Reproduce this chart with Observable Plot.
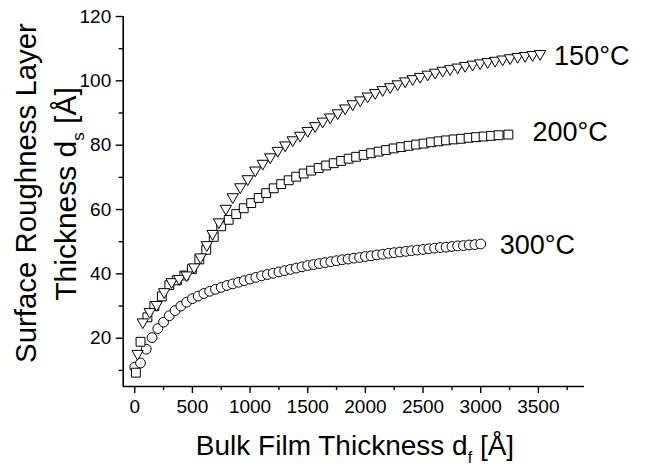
<!DOCTYPE html>
<html>
<head>
<meta charset="utf-8">
<script src="https://cdn.jsdelivr.net/npm/d3@7"></script>
<script src="https://cdn.jsdelivr.net/npm/@observablehq/plot@0.6"></script>
<style>
  html, body { margin: 0; padding: 0; background: #fff; }
  #chart { width: 647px; height: 466px; }
  text { font-family: "Liberation Sans", Arial, sans-serif; }
</style>
</head>
<body>
<div id="chart"></div>
<script>
// ---- Data ----
const series = ["150°C", "200°C", "300°C"];

// 150°C (down triangles)
const t150_x = [25, 70, 130, 190, 255, 320, 385, 450, 515, 570, 625, 675, 730, 790, 850, 915, 980, 1045, 1110, 1175, 1240, 1305, 1370, 1435, 1500, 1565, 1630, 1695, 1760, 1825, 1890, 1955, 2020, 2085, 2150, 2215, 2280, 2345, 2410, 2475, 2540, 2605, 2670, 2735, 2800, 2865, 2930, 2995, 3060, 3125, 3190, 3255, 3320, 3385, 3450, 3515];
const t150_y = [15.2, 25.0, 28.2, 30.4, 34.4, 37.5, 38.5, 39.6, 42.1, 45.2, 49.0, 52.5, 56.1, 60.3, 63.9, 67.0, 69.5, 72.2, 74.3, 76.3, 78.3, 80.0, 81.6, 83.0, 84.5, 86.0, 87.4, 88.7, 90.0, 91.5, 92.8, 94.0, 95.2, 96.3, 97.2, 98.1, 99.0, 99.9, 100.6, 101.3, 102.0, 102.6, 103.2, 103.7, 104.2, 104.7, 105.1, 105.5, 105.9, 106.3, 106.7, 107.1, 107.5, 107.8, 108.1, 108.4];

// 200°C (squares)
const s200_x = [10, 50, 110, 170, 235, 300, 365, 430, 495, 560, 620, 685, 750, 815, 880, 945, 1010, 1075, 1140, 1205, 1270, 1335, 1400, 1465, 1530, 1595, 1660, 1725, 1790, 1855, 1920, 1985, 2050, 2115, 2180, 2245, 2310, 2375, 2440, 2505, 2570, 2635, 2700, 2765, 2830, 2895, 2960, 3025, 3090, 3155, 3240];
const s200_y = [9.3, 18.9, 26.5, 30.0, 33.0, 36.5, 38.0, 39.5, 41.5, 44.5, 47.5, 51.5, 54.8, 56.8, 58.6, 60.4, 62.0, 63.6, 65.1, 66.6, 67.9, 69.1, 70.2, 71.2, 72.1, 72.9, 73.7, 74.4, 75.1, 75.8, 76.4, 77.0, 77.5, 78.0, 78.5, 79.0, 79.4, 79.8, 80.2, 80.5, 80.9, 81.2, 81.5, 81.8, 82.0, 82.3, 82.5, 82.7, 82.9, 83.1, 83.3];

// 300°C (circles)
const c300_x = [0, 50, 100, 150, 200, 250, 300, 350, 400, 450, 500, 550, 600, 650, 700, 750, 800, 850, 900, 950, 1000, 1050, 1100, 1150, 1200, 1250, 1300, 1350, 1400, 1450, 1500, 1550, 1600, 1650, 1700, 1750, 1800, 1850, 1900, 1950, 2000, 2050, 2100, 2150, 2200, 2250, 2300, 2350, 2400, 2450, 2500, 2550, 2600, 2650, 2700, 2750, 2800, 2850, 2900, 2950, 3000];
const c300_y = [11.0, 12.3, 16.6, 20.2, 23.0, 25.0, 27.0, 28.6, 30.0, 31.2, 32.3, 33.1, 33.9, 34.6, 35.2, 35.8, 36.4, 36.9, 37.4, 37.9, 38.4, 38.9, 39.4, 39.8, 40.2, 40.6, 41.0, 41.4, 41.8, 42.2, 42.6, 42.9, 43.2, 43.5, 43.8, 44.1, 44.4, 44.6, 44.9, 45.1, 45.4, 45.6, 45.9, 46.1, 46.4, 46.6, 46.8, 47.0, 47.2, 47.4, 47.6, 47.8, 48.0, 48.2, 48.3, 48.5, 48.7, 48.8, 49.0, 49.1, 49.3];

// Axis ticks
const xTicks = [0, 500, 1000, 1500, 2000, 2500, 3000, 3500];
const xMinor = [250, 750, 1250, 1750, 2250, 2750, 3250, 3750];
const yTicks = [20, 40, 60, 80, 100, 120];
const yMinor = [10, 30, 50, 70, 90, 110];
const xDomain = [-100, 3900];
const yDomain = [5, 120];

// ---- Build tables ----
const toRows = (xs, ys, s) => xs.map((x, i) => ({x, y: ys[i], series: s}));
const tri = toRows(t150_x, t150_y, series[0]);
const sq = toRows(s200_x, s200_y, series[1]);
const circ = toRows(c300_x, c300_y, series[2]);
const lastPts = [tri[tri.length - 1], sq[sq.length - 1], circ[circ.length - 1]];

const triDown = {
  draw(ctx, size) {
    const s = Math.sqrt(size * 4 / Math.sqrt(3));
    const h = s * Math.sqrt(3) / 2;
    ctx.moveTo(-s / 2, -h / 3);
    ctx.lineTo(s / 2, -h / 3);
    ctx.lineTo(0, 2 * h / 3);
    ctx.closePath();
  }
};

const font = '"Liberation Sans", Arial, sans-serif';

const plot = Plot.plot({
  width: 647,
  height: 466,
  marginLeft: 122.7,
  marginRight: 63,
  marginTop: 16,
  marginBottom: 80,
  style: {fontFamily: font, fontSize: "19px", background: "white", color: "black", overflow: "visible"},
  x: {domain: xDomain},
  y: {domain: yDomain},
  marks: [
    Plot.axisX({ticks: xTicks, tickSize: 7, tickPadding: 6, fontSize: 19, label: null, tickFormat: d => String(d), strokeWidth: 1.4}),
    Plot.axisX({ticks: xMinor, tickSize: 4, text: null, label: null, strokeWidth: 1.4}),
    Plot.axisY({ticks: yTicks, tickSize: 7, tickPadding: 5, fontSize: 19, label: null, strokeWidth: 1.4}),
    Plot.axisY({ticks: yMinor, tickSize: 4, text: null, label: null, strokeWidth: 1.4}),
    Plot.ruleX([xDomain[0]], {stroke: "black", strokeWidth: 1.6}),
    Plot.ruleY([yDomain[0]], {stroke: "black", strokeWidth: 1.6}),
    Plot.dot(circ, {x: "x", y: "y", r: 4.9, symbol: "circle", fill: "white", stroke: "black", strokeWidth: 1}),
    Plot.dot(sq, {x: "x", y: "y", r: 5.0, symbol: "square", fill: "white", stroke: "black", strokeWidth: 1}),
    Plot.dot(tri, {x: "x", y: "y", r: 4.2, symbol: triDown, fill: "white", stroke: "black", strokeWidth: 1}),
    Plot.text([lastPts[0]], {x: "x", y: "y", text: "series", textAnchor: "start", dx: 14, dy: 3, fontSize: 27, fill: "black"}),
    Plot.text([lastPts[1]], {x: "x", y: "y", text: "series", textAnchor: "start", dx: 24, dy: -2.5, fontSize: 27, fill: "black"}),
    Plot.text([lastPts[2]], {x: "x", y: "y", text: "series", textAnchor: "start", dx: 19, dy: 1.5, fontSize: 27, fill: "black"})
  ]
});

document.getElementById("chart").appendChild(plot);

// Axis titles with subscripts
const svg = d3.select(plot);
const xt = svg.append("text")
  .attr("x", 355).attr("y", 455)
  .attr("text-anchor", "middle")
  .attr("font-size", 28).attr("font-family", font).attr("fill", "black");
xt.append("tspan").text("Bulk Film Thickness d");
xt.append("tspan").attr("font-size", 16).attr("dy", 8).text("f");
xt.append("tspan").attr("dy", -8).text(" [Å]");

svg.append("text")
  .attr("transform", "translate(36,193) rotate(-90)")
  .attr("text-anchor", "middle")
  .attr("font-size", 29.4).attr("font-family", font).attr("fill", "black")
  .text("Surface Roughness Layer");

const yt2 = svg.append("text")
  .attr("transform", "translate(76,194) rotate(-90)")
  .attr("text-anchor", "middle")
  .attr("font-size", 30).attr("font-family", font).attr("fill", "black");
yt2.append("tspan").text("Thickness d");
yt2.append("tspan").attr("font-size", 17).attr("dy", 8).text("s");
yt2.append("tspan").attr("dy", -8).text(" [Å]");
</script>
</body>
</html>
